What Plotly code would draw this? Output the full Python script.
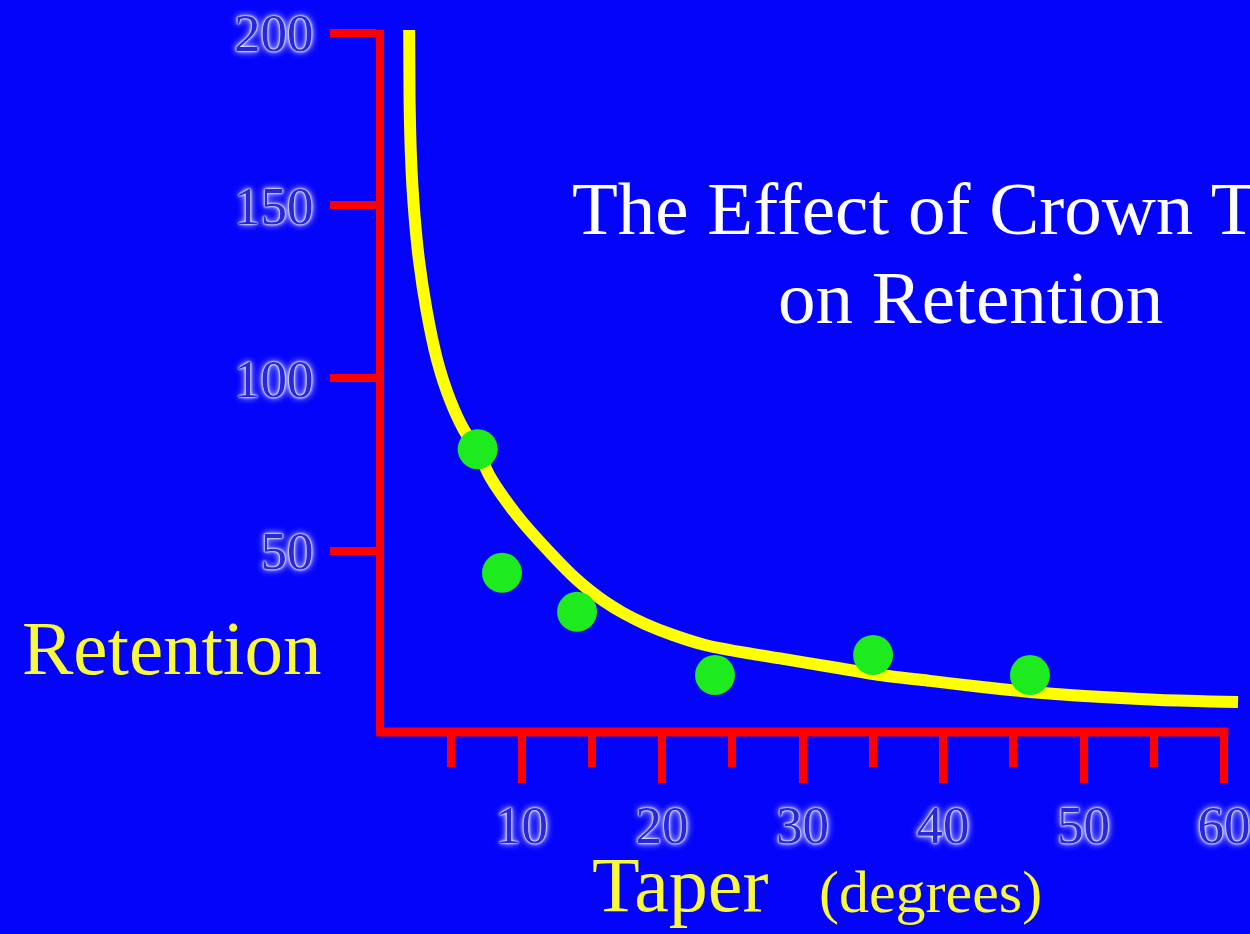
import plotly.graph_objects as go

# fitted retention curve (taper in degrees, retention)
curve_taper = [2.0, 2.03, 2.14, 2.35, 2.70, 3.24, 4.00, 4.92, 5.91, 6.84, 7.76,
               8.83, 10.11, 12.53, 13.81, 14.88, 15.94, 17.22, 18.79, 20.78, 23.06,
               25.55, 28.40, 31.96, 35.52, 39.08, 42.63, 46.19, 49.75, 55.44, 61.0]
curve_retention = [200.8, 180.5, 163.1, 148.6, 134.1, 119.6, 105.1, 93.6, 84.9, 79.2, 71.4,
                   64.8, 58.1, 47.3, 42.1, 38.4, 35.2, 32.0, 28.8, 25.6, 22.7,
                   20.7, 18.8, 16.4, 14.0, 12.3, 10.6, 9.1, 8.0, 6.8, 6.2]

# measured points
point_taper = [6.88, 8.61, 13.95, 23.77, 35.02, 46.19]
point_retention = [79.4, 43.6, 32.3, 14.0, 19.8, 14.0]

x_major = [10, 20, 30, 40, 50, 60]
x_minor = [5, 15, 25, 35, 45, 55]
y_ticks = [50, 100, 150, 200]

BLUE = "#0404FA"
RED = "#FF0000"
YELLOW = "#FFFF00"
TEXT_YELLOW = "#F8F83C"
SERIF = "Liberation Serif, Times New Roman, serif"

W, H = 1250, 934
L, R, T, B = 384, 0, 30, 202


def px(x):
    return (x - L) / (W - L - R)


def py(y):
    return (H - B - y) / (H - T - B)


tick_font = dict(family=SERIF, size=53, color="#2828D8",
                 shadow="0 0 1px #FFFFFF, 0 0 2px #FFFFFF, 0 0 3px #FFFFFF, "
                        "0 0 6px #C8C8FF, 0 0 9px #9090FF")

fig = go.Figure()

fig.add_trace(go.Scatter(
    x=curve_taper, y=curve_retention,
    mode="lines",
    line=dict(color=YELLOW, width=12, shape="spline", smoothing=0.6),
    hoverinfo="skip",
))

fig.add_trace(go.Scatter(
    x=point_taper, y=point_retention,
    mode="markers",
    marker=dict(color="#1EEB1E", size=40, line=dict(width=0)),
    cliponaxis=False,
))

# x axis line: from the y axis to just past the 60 tick, like the original
fig.add_shape(type="line", xref="x domain", yref="paper",
              x0=-0.009, x1=0.975, y0=0, y1=0,
              line=dict(color=RED, width=9))

fig.add_annotation(text="The Effect of Crown Taper", x=px(976), y=py(208),
                   xref="paper", yref="paper", showarrow=False,
                   xanchor="center", yanchor="middle",
                   font=dict(family=SERIF, size=75, color="white"))
fig.add_annotation(text="on Retention", x=px(970), y=py(297),
                   xref="paper", yref="paper", showarrow=False,
                   xanchor="center", yanchor="middle",
                   font=dict(family=SERIF, size=75, color="white"))
fig.add_annotation(text="Retention", x=px(171), y=py(648),
                   xref="paper", yref="paper", showarrow=False,
                   xanchor="center", yanchor="middle",
                   font=dict(family=SERIF, size=77, color=TEXT_YELLOW))
fig.add_annotation(text="Taper", x=px(680), y=py(884),
                   xref="paper", yref="paper", showarrow=False,
                   xanchor="center", yanchor="middle",
                   font=dict(family=SERIF, size=78, color=TEXT_YELLOW))
fig.add_annotation(text="(degrees)", x=px(930), y=py(892),
                   xref="paper", yref="paper", showarrow=False,
                   xanchor="center", yanchor="middle",
                   font=dict(family=SERIF, size=60, color=TEXT_YELLOW))

fig.update_layout(
    width=W, height=H,
    margin=dict(l=L, r=R, t=T, b=B),
    paper_bgcolor=BLUE,
    plot_bgcolor=BLUE,
    showlegend=False,
    xaxis=dict(
        range=[0.21, 61.85],
        showgrid=False, zeroline=False, showline=False,
        tickmode="array", tickvals=x_major, ticktext=[str(v) for v in x_major],
        ticks="outside", ticklen=50, tickwidth=8, tickcolor=RED,
        ticklabelstandoff=-4, ticklabeloverflow="allow",
        tickfont=tick_font,
        minor=dict(tickmode="array", tickvals=x_minor, ticks="outside",
                   ticklen=34, tickwidth=8, tickcolor=RED, showgrid=False),
    ),
    yaxis=dict(
        range=[-2.5, 200.8],
        showgrid=False, zeroline=False,
        showline=True, linecolor=RED, linewidth=8,
        tickmode="array", tickvals=y_ticks, ticktext=[str(v) for v in y_ticks],
        ticks="outside", ticklen=46, tickwidth=8, tickcolor=RED,
        ticklabelstandoff=6,
        tickfont=tick_font,
    ),
)

fig.write_html("out.html", config={"displayModeBar": False},
               post_script="document.body.style.margin = '0';")
